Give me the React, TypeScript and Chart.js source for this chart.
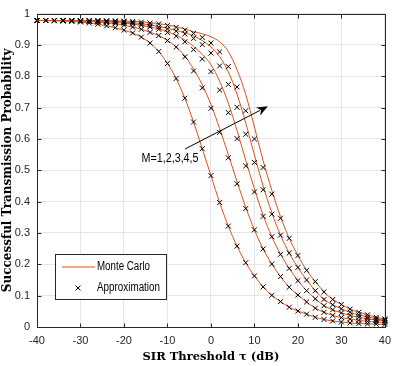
import React, { useEffect, useRef } from "react";
import { Chart, registerables } from "chart.js";

Chart.register(...registerables);

// SIR threshold (dB)
const tau = [
  -40, -38, -36, -34, -32, -30, -28, -26, -24, -22,
  -20, -18, -16, -14, -12, -10, -8, -6, -4, -2,
  0, 2, 4, 6, 8, 10, 12, 14, 16, 18,
  20, 22, 24, 26, 28, 30, 32, 34, 36, 38, 40,
];

// Approximation (markers), M = 1..5
const approxM1 = [
  0.978, 0.978, 0.977, 0.976, 0.975, 0.973, 0.970, 0.966, 0.961, 0.955,
  0.947, 0.938, 0.925, 0.906, 0.879, 0.841, 0.793, 0.730, 0.654, 0.569,
  0.483, 0.397, 0.322, 0.258, 0.205, 0.163, 0.128, 0.101, 0.081, 0.063,
  0.051, 0.041, 0.031, 0.024, 0.019, 0.016, 0.013, 0.011, 0.010, 0.009, 0.008,
];
const approxM2 = [
  0.978, 0.978, 0.978, 0.977, 0.977, 0.976, 0.975, 0.973, 0.971, 0.968,
  0.963, 0.957, 0.950, 0.940, 0.930, 0.914, 0.893, 0.862, 0.817, 0.763,
  0.698, 0.621, 0.540, 0.457, 0.378, 0.310, 0.249, 0.201, 0.161, 0.127,
  0.102, 0.080, 0.060, 0.047, 0.037, 0.030, 0.025, 0.021, 0.018, 0.016, 0.014,
];
const approxM3 = [
  0.978, 0.978, 0.978, 0.978, 0.977, 0.977, 0.976, 0.975, 0.974, 0.972,
  0.970, 0.967, 0.963, 0.957, 0.950, 0.940, 0.928, 0.910, 0.885, 0.855,
  0.815, 0.756, 0.684, 0.601, 0.514, 0.431, 0.353, 0.288, 0.232, 0.187,
  0.148, 0.116, 0.090, 0.068, 0.055, 0.045, 0.037, 0.031, 0.026, 0.022, 0.019,
];
const approxM4 = [
  0.978, 0.978, 0.978, 0.978, 0.978, 0.978, 0.977, 0.977, 0.976, 0.975,
  0.973, 0.971, 0.967, 0.962, 0.957, 0.951, 0.944, 0.935, 0.921, 0.901,
  0.874, 0.833, 0.774, 0.701, 0.615, 0.525, 0.438, 0.360, 0.293, 0.236,
  0.190, 0.150, 0.116, 0.088, 0.071, 0.058, 0.047, 0.039, 0.032, 0.026, 0.022,
];
const approxM5 = [
  0.978, 0.978, 0.978, 0.978, 0.978, 0.978, 0.978, 0.978, 0.977, 0.977,
  0.976, 0.975, 0.973, 0.970, 0.967, 0.962, 0.956, 0.948, 0.937, 0.924,
  0.906, 0.878, 0.831, 0.766, 0.690, 0.600, 0.509, 0.424, 0.347, 0.283,
  0.228, 0.181, 0.145, 0.112, 0.088, 0.072, 0.057, 0.047, 0.039, 0.031, 0.026,
];

// Monte Carlo (lines), M = 1..5
const mcM1 = [
  0.978, 0.978, 0.977, 0.976, 0.975, 0.973, 0.970, 0.966, 0.961, 0.955,
  0.947, 0.938, 0.925, 0.906, 0.879, 0.841, 0.793, 0.730, 0.654, 0.569,
  0.483, 0.397, 0.322, 0.258, 0.205, 0.163, 0.128, 0.101, 0.081, 0.063,
  0.051, 0.041, 0.031, 0.024, 0.019, 0.016, 0.013, 0.011, 0.010, 0.009, 0.008,
];
const mcM2 = [
  0.978, 0.978, 0.978, 0.977, 0.977, 0.976, 0.975, 0.973, 0.971, 0.968,
  0.963, 0.957, 0.950, 0.940, 0.930, 0.914, 0.894, 0.865, 0.823, 0.773,
  0.710, 0.633, 0.550, 0.464, 0.382, 0.310, 0.249, 0.201, 0.161, 0.127,
  0.102, 0.080, 0.060, 0.047, 0.037, 0.030, 0.025, 0.021, 0.018, 0.016, 0.014,
];
const mcM3 = [
  0.978, 0.978, 0.978, 0.978, 0.977, 0.977, 0.976, 0.975, 0.974, 0.972,
  0.970, 0.967, 0.963, 0.957, 0.951, 0.942, 0.931, 0.916, 0.895, 0.870,
  0.837, 0.784, 0.714, 0.627, 0.532, 0.441, 0.357, 0.288, 0.232, 0.187,
  0.148, 0.116, 0.090, 0.068, 0.055, 0.045, 0.037, 0.031, 0.026, 0.022, 0.019,
];
const mcM4 = [
  0.978, 0.978, 0.978, 0.978, 0.978, 0.978, 0.977, 0.977, 0.976, 0.975,
  0.973, 0.971, 0.968, 0.964, 0.959, 0.953, 0.946, 0.939, 0.929, 0.914,
  0.894, 0.863, 0.814, 0.743, 0.651, 0.549, 0.450, 0.365, 0.293, 0.236,
  0.190, 0.150, 0.116, 0.088, 0.071, 0.058, 0.047, 0.039, 0.032, 0.026, 0.022,
];
const mcM5 = [
  0.978, 0.978, 0.978, 0.978, 0.978, 0.978, 0.978, 0.978, 0.977, 0.977,
  0.976, 0.975, 0.974, 0.971, 0.968, 0.964, 0.958, 0.951, 0.942, 0.936,
  0.926, 0.910, 0.879, 0.821, 0.742, 0.638, 0.531, 0.436, 0.352, 0.283,
  0.228, 0.181, 0.145, 0.112, 0.088, 0.072, 0.057, 0.047, 0.039, 0.031, 0.026,
];

const mcSeries = [mcM1, mcM2, mcM3, mcM4, mcM5];
const approxSeries = [approxM1, approxM2, approxM3, approxM4, approxM5];

const legendLabels = ["Monte Carlo", "Approximation"];
const xTitle = "SIR Threshold \u03c4 (dB)";
const yTitle = "Successful Transmission Probability";
const annotationText = "M=1,2,3,4,5";
// annotation anchor points in data units (dB, probability)
const arrowStart = { x: -5.96, y: 0.568 };
const arrowEnd = { x: 13.09, y: 0.704 };
const textAnchor = { x: -15.96, y: 0.538 };

const LINE_COLOR = "#D95319";
const AXIS_COLOR = "#262626";
const SANS = "'Liberation Sans', Arial, sans-serif";
const SERIF = "'DejaVu Serif', 'Liberation Serif', serif";

const decorPlugin = {
  id: "decor",
  afterDraw(chart: any) {
    const { ctx, chartArea: a, scales } = chart;
    const xs = scales.x;
    const ys = scales.y;
    const L = Math.round(a.left) + 0.5;
    const R = Math.round(a.right) + 0.5;
    const T = Math.round(a.top) + 0.5;
    const B = Math.round(a.bottom) + 0.5;
    ctx.save();
    // frame
    ctx.strokeStyle = AXIS_COLOR;
    ctx.lineWidth = 1;
    ctx.strokeRect(L, T, R - L, B - T);
    // inward ticks
    const tl = 4;
    ctx.beginPath();
    xs.ticks.forEach((t: any) => {
      const px = Math.round(xs.getPixelForValue(t.value)) + 0.5;
      ctx.moveTo(px, B);
      ctx.lineTo(px, B - tl);
      ctx.moveTo(px, T);
      ctx.lineTo(px, T + tl);
    });
    ys.ticks.forEach((t: any) => {
      const py = Math.round(ys.getPixelForValue(t.value)) + 0.5;
      ctx.moveTo(L, py);
      ctx.lineTo(L + tl, py);
      ctx.moveTo(R, py);
      ctx.lineTo(R - tl, py);
    });
    ctx.stroke();

    // annotation arrow
    const sx = xs.getPixelForValue(arrowStart.x);
    const sy = ys.getPixelForValue(arrowStart.y);
    const ex = xs.getPixelForValue(arrowEnd.x);
    const ey = ys.getPixelForValue(arrowEnd.y);
    const ang = Math.atan2(ey - sy, ex - sx);
    const hl = 11;
    const hw = 4.5;
    ctx.strokeStyle = "#000";
    ctx.lineWidth = 1;
    ctx.beginPath();
    ctx.moveTo(sx, sy);
    ctx.lineTo(ex - Math.cos(ang) * (hl - 2), ey - Math.sin(ang) * (hl - 2));
    ctx.stroke();
    ctx.fillStyle = "#000";
    ctx.beginPath();
    ctx.moveTo(ex, ey);
    const bx = ex - Math.cos(ang) * hl;
    const by = ey - Math.sin(ang) * hl;
    ctx.lineTo(bx - Math.sin(ang) * hw, by + Math.cos(ang) * hw);
    ctx.lineTo(ex - Math.cos(ang) * (hl * 0.7), ey - Math.sin(ang) * (hl * 0.7));
    ctx.lineTo(bx + Math.sin(ang) * hw, by - Math.cos(ang) * hw);
    ctx.closePath();
    ctx.fill();
    ctx.font = `12px ${SANS}`;
    ctx.textAlign = "left";
    ctx.textBaseline = "middle";
    ctx.fillText(
      annotationText,
      xs.getPixelForValue(textAnchor.x),
      ys.getPixelForValue(textAnchor.y),
      57
    );

    // legend
    const lx = Math.round(a.left + 18) + 0.5;
    const ly = Math.round(a.top + 240) + 0.5;
    const lw = 111;
    const lh = 45;
    ctx.fillStyle = "#fff";
    ctx.fillRect(lx, ly, lw, lh);
    ctx.strokeStyle = AXIS_COLOR;
    ctx.strokeRect(lx, ly, lw, lh);
    const r1 = ly + 12.5;
    const r2 = ly + 33.5;
    ctx.strokeStyle = LINE_COLOR;
    ctx.beginPath();
    ctx.moveTo(lx + 6.5, r1);
    ctx.lineTo(lx + 39.5, r1);
    ctx.stroke();
    ctx.strokeStyle = "#000";
    const cx = lx + 22.5;
    const d = 2.5;
    ctx.beginPath();
    ctx.moveTo(cx - d, r2 - d);
    ctx.lineTo(cx + d, r2 + d);
    ctx.moveTo(cx - d, r2 + d);
    ctx.lineTo(cx + d, r2 - d);
    ctx.stroke();
    ctx.fillStyle = "#000";
    ctx.font = `12px ${SANS}`;
    ctx.textAlign = "left";
    ctx.textBaseline = "middle";
    ctx.fillText(legendLabels[0], lx + 41.5, r1, 53);
    ctx.fillText(legendLabels[1], lx + 41.5, r2, 63);
    ctx.restore();
  },
};

export default function App() {
  const canvasRef = useRef<HTMLCanvasElement | null>(null);

  useEffect(() => {
    document.body.style.margin = "0";
    const canvas = canvasRef.current;
    if (!canvas) return;

    const lineSets = mcSeries.map((s, i) => ({
      label: `Monte Carlo M=${i + 1}`,
      data: tau.map((t, j) => ({ x: t, y: s[j] })),
      borderColor: LINE_COLOR,
      borderWidth: 1,
      pointRadius: 0,
      tension: 0.4,
      cubicInterpolationMode: "monotone" as const,
      fill: false,
      order: 2,
    }));
    const markerSets = approxSeries.map((s, i) => ({
      label: `Approximation M=${i + 1}`,
      data: tau.map((t, j) => ({ x: t, y: s[j] })),
      showLine: false,
      pointStyle: "crossRot" as const,
      pointRadius: 3.5,
      pointBorderWidth: 1,
      borderColor: "#000",
      backgroundColor: "#000",
      pointBorderColor: "#000",
      clip: false as any,
      order: 1,
    }));

    const chart = new Chart(canvas, {
      type: "line",
      data: { datasets: [...lineSets, ...markerSets] as any },
      options: {
        responsive: false,
        animation: false,
        events: [],
        layout: { padding: { top: 5, right: 6, left: 0, bottom: 0 } },
        plugins: {
          legend: { display: false },
          tooltip: { enabled: false },
        },
        scales: {
          x: {
            type: "linear",
            min: -40,
            max: 40,
            afterFit: (s: any) => {
              s.height = 39;
            },
            ticks: {
              stepSize: 10,
              color: AXIS_COLOR,
              font: { family: SANS, size: 11 },
              padding: 7,
              maxRotation: 0,
            },
            grid: { color: "#e6e6e6", lineWidth: 1, drawTicks: false },
            border: { display: false },
            title: {
              display: true,
              text: xTitle,
              color: "#000",
              font: { family: SERIF, size: 11.5, weight: "bold" },
              padding: { top: 0, bottom: 2 },
            },
          },
          y: {
            type: "linear",
            min: 0,
            max: 1,
            afterFit: (s: any) => {
              s.width = 37;
            },
            ticks: {
              stepSize: 0.1,
              color: AXIS_COLOR,
              font: { family: SANS, size: 11 },
              padding: 7,
              callback: (v: any) => String(Math.round(Number(v) * 10) / 10),
            },
            grid: { color: "#e6e6e6", lineWidth: 1, drawTicks: false },
            border: { display: false },
            title: {
              display: true,
              text: yTitle,
              color: "#000",
              font: { family: SERIF, size: 12, weight: "bold" },
              padding: { top: 1, bottom: 0 },
            },
          },
        },
      },
      plugins: [decorPlugin],
    });

    return () => chart.destroy();
  }, []);

  return (
    <div style={{ width: 398, height: 366 }}>
      <canvas ref={canvasRef} width={398} height={366} style={{ display: "block" }} />
    </div>
  );
}
